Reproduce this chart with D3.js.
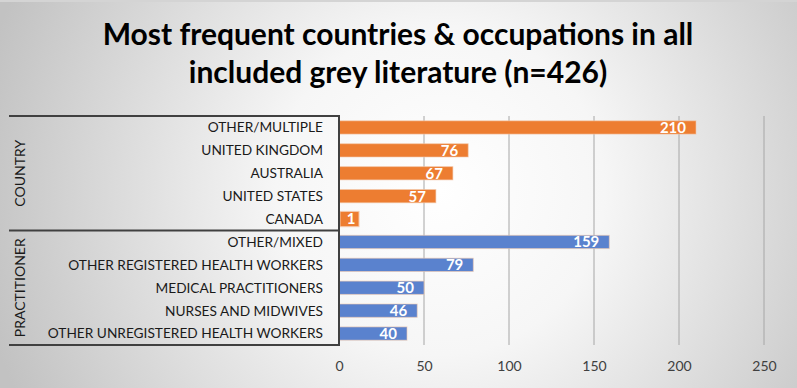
<!DOCTYPE html>
<html>
<head>
<meta charset="utf-8">
<script src="https://cdn.jsdelivr.net/npm/d3@7"></script>
<style>
  body { margin: 0; }
  svg { display: block; font-family: Lato, "Open Sans", sans-serif; }
</style>
</head>
<body>
<div id="chart"></div>
<script>
// chart data
const categories = ["OTHER/MULTIPLE", "UNITED KINGDOM", "AUSTRALIA", "UNITED STATES", "CANADA",
  "OTHER/MIXED", "OTHER REGISTERED HEALTH WORKERS", "MEDICAL PRACTITIONERS",
  "NURSES AND MIDWIVES", "OTHER UNREGISTERED HEALTH WORKERS"];
const values = [210, 76, 67, 57, 1, 159, 79, 50, 46, 40];
const groups = ["COUNTRY", "COUNTRY", "COUNTRY", "COUNTRY", "COUNTRY",
  "PRACTITIONER", "PRACTITIONER", "PRACTITIONER", "PRACTITIONER", "PRACTITIONER"];
const groupNames = ["COUNTRY", "PRACTITIONER"];
const xTicks = [0, 50, 100, 150, 200, 250];
const titleLines = ["Most frequent countries & occupations in all", "included grey literature (n=426)"];

let width = 797, height = 388;
let margin = {top: 116, right: 33, bottom: 43, left: 339};
const colors = {COUNTRY: "#ED7D31", PRACTITIONER: "#5A82CE"};

const svg = d3.select("#chart")
    .append("svg")
    .attr("width", width)
    .attr("height", height);

// background gradient (white centre, grey edges)
const defs = svg.append("defs");
const grad = defs.append("radialGradient")
    .attr("id", "bg")
    .attr("gradientUnits", "userSpaceOnUse")
    .attr("cx", 440).attr("cy", 190).attr("r", 470);
grad.append("stop").attr("offset", "0%").attr("stop-color", "#ffffff");
grad.append("stop").attr("offset", "35%").attr("stop-color", "#f6f6f6");
grad.append("stop").attr("offset", "100%").attr("stop-color", "#c2c2c2");

svg.append("rect")
    .attr("width", width).attr("height", height)
    .attr("fill", "url(#bg)");
svg.append("line")
    .attr("x1", 0).attr("x2", width).attr("y1", 1).attr("y2", 1)
    .attr("stroke", "#d4d4d4").attr("stroke-width", 2);

// title
svg.append("g").selectAll("text")
    .data(titleLines)
    .enter().append("text")
    .attr("x", 398)
    .attr("y", (d, i) => 45 + i * 38)
    .attr("text-anchor", "middle")
    .attr("font-size", 30)
    .attr("font-weight", "bold")
    .attr("fill", "#000")
    .text(d => d);

const x = d3.scaleLinear()
    .domain([0, 250])
    .range([margin.left, margin.left + 425]);

const y = d3.scaleBand()
    .domain(categories)
    .range([margin.top, height - margin.bottom])
    .paddingInner(0.42)
    .paddingOuter(0.21);

// gridlines
svg.append("g")
    .selectAll("line")
    .data(xTicks.slice(1))
    .enter().append("line")
    .attr("x1", d => x(d)).attr("x2", d => x(d))
    .attr("y1", margin.top).attr("y2", height - margin.bottom)
    .attr("stroke", "#a6a6a6")
    .attr("stroke-width", 1);

// x axis labels
const xAxis = svg.append("g")
    .attr("transform", "translate(0," + (height - margin.bottom) + ")")
    .call(d3.axisBottom(x).tickValues(xTicks).tickSize(0).tickPadding(16));
xAxis.select(".domain").remove();
xAxis.selectAll("text")
    .attr("font-family", "Lato, sans-serif")
    .attr("font-size", 14)
    .attr("fill", "#404040");

// bars
svg.append("g")
    .selectAll("rect")
    .data(categories)
    .enter().append("rect")
    .attr("x", x(0))
    .attr("y", d => y(d))
    .attr("width", (d, i) => x(values[i]) - x(0))
    .attr("height", y.bandwidth())
    .attr("fill", (d, i) => colors[groups[i]])
    .attr("stroke", "#f4c9ad")
    .attr("stroke-opacity", 0.6)
    .attr("stroke-width", 1);

// data labels (with a coloured box when the bar is too short)
const labels = svg.append("g")
    .selectAll("g")
    .data(categories)
    .enter().append("g");

labels.each(function(d, i) {
    const g = d3.select(this);
    const barEnd = x(values[i]);
    const t = g.append("text")
        .attr("y", y(d) + y.bandwidth() / 2)
        .attr("dy", "0.36em")
        .attr("font-size", 15)
        .attr("font-weight", "bold")
        .attr("fill", "#fff")
        .text(values[i]);
    const w = t.node().getComputedTextLength();
    const boxW = w + 12;
    if (barEnd - x(0) < boxW) {
        const boxX = x(0) + 1;
        g.insert("rect", "text")
            .attr("x", boxX)
            .attr("y", y(d) - 1)
            .attr("width", 19)
            .attr("height", y.bandwidth() + 2)
            .attr("fill", colors[groups[i]])
            .attr("stroke", "#f4c9ad")
            .attr("stroke-width", 1);
        t.attr("x", boxX + 11).attr("text-anchor", "middle");
    } else {
        t.attr("x", barEnd - 10).attr("text-anchor", "end");
    }
});

// category labels
svg.append("g")
    .selectAll("text")
    .data(categories)
    .enter().append("text")
    .attr("x", margin.left - 16)
    .attr("y", d => y(d) + y.bandwidth() / 2)
    .attr("dy", "0.36em")
    .attr("text-anchor", "end")
    .attr("font-size", 13.7)
    .attr("fill", "#1a1a1a")
    .text(d => d);

// group brackets
const step = y.step();
const groupBounds = groupNames.map(g => {
    const idx = categories.filter((c, i) => groups[i] === g);
    return {name: g, top: y(idx[0]) - step * 0.5 + y.bandwidth() / 2,
        bottom: y(idx[idx.length - 1]) + step * 0.5 + y.bandwidth() / 2};
});

const lineColor = "#404040";
svg.append("g")
    .selectAll("line")
    .data([groupBounds[0].top, groupBounds[0].bottom, groupBounds[1].bottom])
    .enter().append("line")
    .attr("x1", 9).attr("x2", margin.left)
    .attr("y1", d => d).attr("y2", d => d)
    .attr("stroke", lineColor)
    .attr("stroke-width", 2);

svg.append("line")
    .attr("x1", margin.left).attr("x2", margin.left)
    .attr("y1", groupBounds[0].top - 1).attr("y2", groupBounds[1].bottom + 1)
    .attr("stroke", lineColor)
    .attr("stroke-width", 2);

svg.append("g")
    .selectAll("text")
    .data(groupBounds)
    .enter().append("text")
    .attr("transform", d => "translate(20," + (d.top + d.bottom) / 2 + ") rotate(-90)")
    .attr("dy", "0.36em")
    .attr("text-anchor", "middle")
    .attr("font-size", 14)
    .attr("fill", "#1a1a1a")
    .text(d => d.name);
</script>
</body>
</html>
